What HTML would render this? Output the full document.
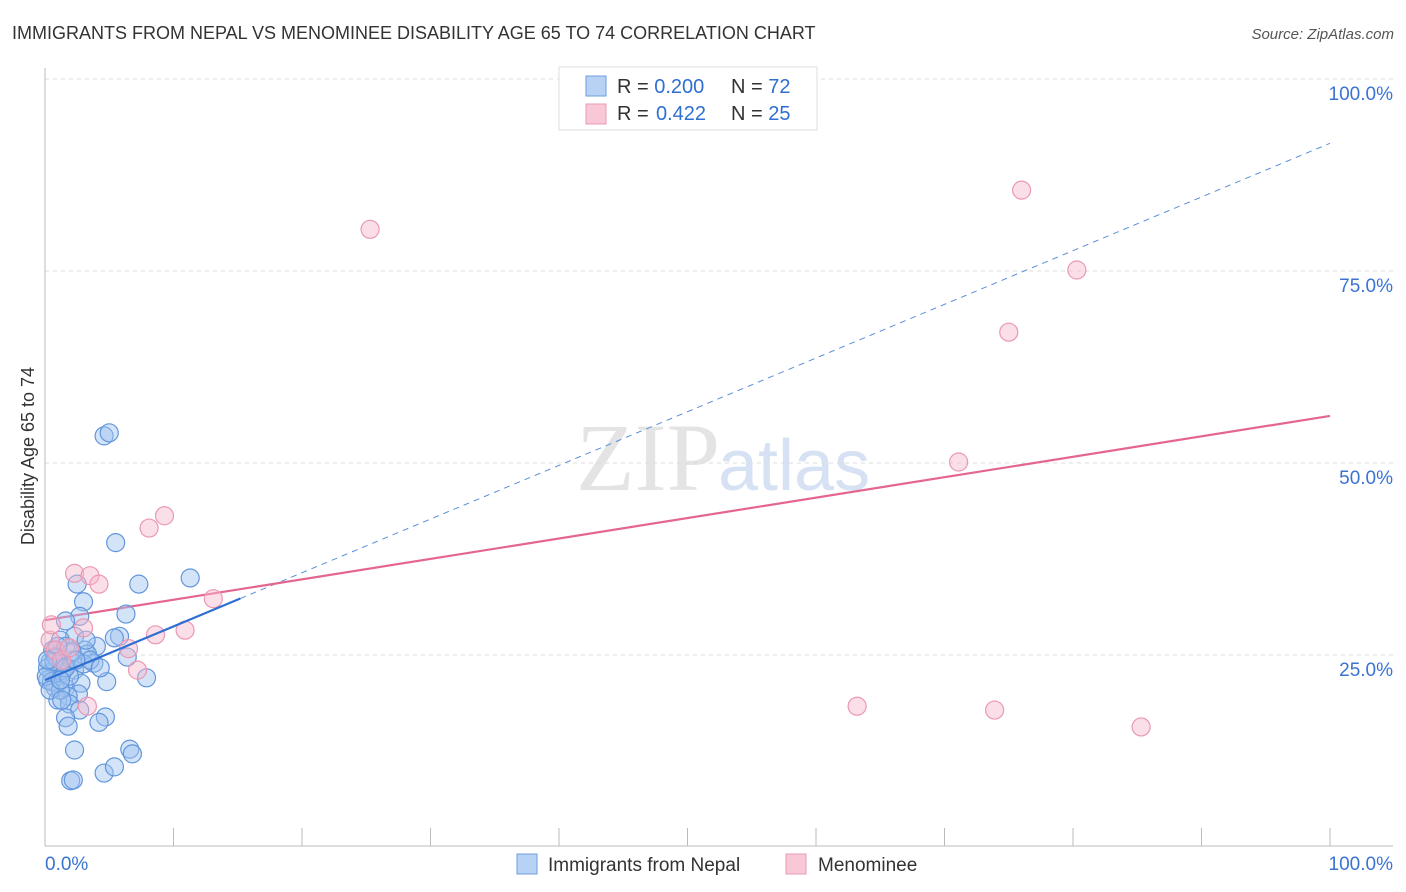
<!DOCTYPE html>
<html><head><meta charset="utf-8"><style>
body{margin:0;background:#fff;font-family:"Liberation Sans",sans-serif}
svg{display:block}
</style></head><body>
<svg id="c" width="1406" height="892">
<text x="12" y="39" font-size="18" fill="#333">IMMIGRANTS FROM NEPAL VS MENOMINEE DISABILITY AGE 65 TO 74 CORRELATION CHART</text>
<text x="1394" y="39" font-size="15" fill="#555" font-style="italic" text-anchor="end">Source: ZipAtlas.com</text>
<text x="720" y="490" font-size="96" fill="#e4e4e4" font-family="Liberation Serif,serif" text-anchor="end">ZIP</text>
<text x="718" y="490" font-size="72" fill="#d6e2f3">atlas</text>
<text transform="translate(34,456) rotate(-90)" font-size="18" fill="#333" text-anchor="middle">Disability Age 65 to 74</text>
<g id="grid"></g><g id="axes"></g><g id="lines"></g><g id="pts"></g>
<g>
<rect x="559" y="67" width="258" height="63" fill="#fff" stroke="#ddd"/>
<rect x="586" y="76" width="20" height="20" fill="#b8d2f5" stroke="#6c9ee0"/>
<rect x="586" y="104" width="20" height="20" fill="#f9c8d6" stroke="#e79bb3"/>
<text x="617" y="93" font-size="20" fill="#333">R = <tspan fill="#2f6fd1">0.200</tspan><tspan x="731">N = </tspan><tspan fill="#2f6fd1">72</tspan></text>
<text x="617" y="120" font-size="20" fill="#333">R = <tspan x="656" fill="#2f6fd1">0.422</tspan><tspan x="731">N = </tspan><tspan fill="#2f6fd1">25</tspan></text>
</g>
<g>
<rect x="517" y="854" width="20" height="20" fill="#b8d2f5" stroke="#6c9ee0"/>
<text x="548" y="871" font-size="19" fill="#333">Immigrants from Nepal</text>
<rect x="786" y="854" width="20" height="20" fill="#f9c8d6" stroke="#e79bb3"/>
<text x="818" y="871" font-size="19" fill="#333">Menominee</text>
</g>
</svg>
<script>
const yTicks=[25,50,75,100];
const yTickLabels=["25.0%","50.0%","75.0%","100.0%"];
const xTickLabels=["0.0%","100.0%"];
const nepalX=[4.6,5.0,5.5,11.3,7.3,2.5,3.0,6.3,2.7,1.6,5.8,5.4,2.3,1.2,4.0,3.1,3.3,6.4,1.9,3.8,0.4,0.9,1.5,2.3,0.5,1.0,0.2,1.3,4.8,7.9,2.8,1.6,0.8,2.6,1.8,1.0,1.9,2.7,4.7,4.2,1.6,1.8,2.3,6.6,6.8,4.6,5.4,2.0,2.2,0.6,0.8,1.3,0.2,0.5,1.2,1.9,3.0,3.5,1.6,2.1,0.9,0.1,0.4,4.3,1.3,3.2,1.0,0.7,1.6,2.4,1.2,0.2];
const nepalY=[53.4,53.8,39.5,34.9,34.1,34.1,31.8,30.2,29.9,29.3,27.3,27.1,27.3,26.8,26.0,25.5,25.0,24.6,24.2,23.8,24.0,23.4,23.2,22.9,22.7,22.1,21.6,22.4,21.4,21.9,21.2,20.6,20.6,19.8,19.5,19.0,18.5,17.7,16.8,16.1,16.7,15.6,12.5,12.6,12.0,9.5,10.3,8.5,8.6,25.5,24.7,24.0,23.2,21.4,20.3,22.1,23.7,24.2,26.0,25.3,24.5,22.1,20.3,23.2,19.0,26.8,26.0,24.0,23.2,24.2,21.6,24.2];
const menX=[25.3,76.0,80.3,75.0,71.1,9.3,8.1,2.3,3.5,4.2,13.1,3.0,8.6,10.9,6.5,7.2,63.2,73.9,85.3,3.3,0.4,0.8,1.3,1.9,0.5];
const menY=[80.3,85.4,75.0,66.9,50.0,43.0,41.4,35.5,35.2,34.1,32.2,28.4,27.5,28.1,25.7,22.9,18.2,17.7,15.5,18.2,26.8,25.5,24.2,25.8,28.8];
const nepalTrend=[21.6,91.5]; // y at x=0 and x=100
const nepalSolidEnd=15.2;
const menTrend=[29.4,56.0];
const X=v=>45+v*12.85, Y=v=>846-v*7.68;
const NS="http://www.w3.org/2000/svg";
function mk(tag,attrs,parent){const e=document.createElementNS(NS,tag);for(const k in attrs)e.setAttribute(k,attrs[k]);document.getElementById(parent).appendChild(e);return e;}
yTicks.forEach((t,i)=>{
 const g=mk('line',{x1:45,x2:1393,y1:Y(t)+1,y2:Y(t)+1,stroke:'#ddd','stroke-dasharray':'4,4'},'grid');
 
 
 const l=mk('text',{x:1393,y:Y(t)+22,'font-size':19,fill:'#3b73d1','text-anchor':'end'},'grid');
 l.textContent=yTickLabels[i];
 
 
});
let a=mk('line',{x1:45,x2:45,y1:68,y2:846,stroke:'#bbb'},'axes');


a=mk('line',{x1:45,x2:1393,y1:846,y2:846,stroke:'#bbb'},'axes');


for(let i=0;i<=10;i++){
 const t=mk('line',{x1:X(i*10),x2:X(i*10),y1:828,y2:846,stroke:'#bbb'},'axes');
 
 
}
[[0,'start'],[100,'end']].forEach((d,i)=>{
 const t=mk('text',{x:i?1393:45,y:870,'font-size':19,fill:'#3b73d1','text-anchor':d[1]},'axes');
 t.textContent=xTickLabels[i];
 
 
});
const ty=(tr,x)=>tr[0]+(tr[1]-tr[0])*x/100;
let ln=mk('line',{x1:X(nepalSolidEnd),y1:Y(ty(nepalTrend,nepalSolidEnd)),x2:X(100),y2:Y(nepalTrend[1]),stroke:'#5b8fd9','stroke-dasharray':'6,5','stroke-width':1},'lines');


ln=mk('line',{x1:X(0),y1:Y(menTrend[0]),x2:X(100),y2:Y(menTrend[1]),stroke:'#e4668f','stroke-width':2.2},'lines');


nepalX.forEach((x,i)=>{
 const c=mk('circle',{cx:X(x),cy:Y(nepalY[i]),r:9,fill:'rgba(160,195,240,0.45)',stroke:'#6296dc','stroke-width':1.2},'pts');
 
 
});
menX.forEach((x,i)=>{
 const c=mk('circle',{cx:X(x),cy:Y(menY[i]),r:9,fill:'rgba(247,185,205,0.45)',stroke:'#ea98b3','stroke-width':1.2},'pts');
 
 
});
ln=mk('line',{x1:X(0),y1:Y(nepalTrend[0]),x2:X(nepalSolidEnd),y2:Y(ty(nepalTrend,nepalSolidEnd)),stroke:'#2f6fd1','stroke-width':2.2},'pts');


</script>
</body></html>
